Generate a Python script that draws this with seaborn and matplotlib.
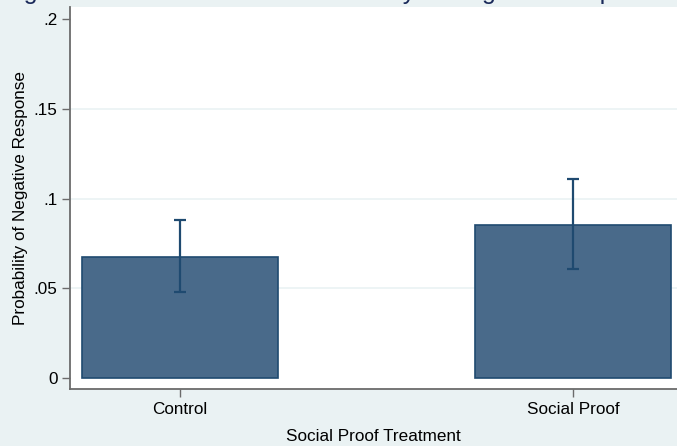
import matplotlib
matplotlib.use("Agg")
import matplotlib.pyplot as plt
import seaborn as sns
import pandas as pd

# Estimated probability of a negative response by treatment arm, with 95% CIs
groups = ["Control", "Social Proof"]
prob_negative = [0.0675, 0.0855]
ci_low = [0.048, 0.0605]
ci_high = [0.088, 0.111]
y_ticks = [0, 0.05, 0.10, 0.15, 0.20]
y_tick_labels = ["0", ".05", ".1", ".15", ".2"]

sns.set_theme(style="white")
plt.rcParams["font.family"] = ["Liberation Sans", "DejaVu Sans"]

bg = "#EAF2F3"
fill = "#496A8A"
navy = "#1F4A70"

fig = plt.figure(figsize=(6.77, 4.46), dpi=100, facecolor=bg)
ax = fig.add_axes([70 / 677, 57 / 446, 1 - 70 / 677, 382 / 446])
ax.set_facecolor("white")

df = pd.DataFrame({"group": groups, "prob": prob_negative})
sns.barplot(data=df, x="group", y="prob", order=groups, color=fill,
            saturation=1, width=0.5, errorbar=None, edgecolor=navy,
            linewidth=1.2, ax=ax, zorder=2)

lower_err = [m - lo for m, lo in zip(prob_negative, ci_low)]
upper_err = [hi - m for m, hi in zip(prob_negative, ci_high)]
ax.errorbar(range(len(groups)), prob_negative, yerr=[lower_err, upper_err],
            fmt="none", ecolor=navy, elinewidth=1.6, capsize=4.5,
            capthick=1.6, zorder=3)

ax.set_xlim(-0.28, 1.265)
ax.set_ylim(-0.0061, 0.2067)
ax.set_yticks(y_ticks)
ax.set_yticklabels(y_tick_labels)

for gy in y_ticks[1:-1]:
    ax.axhline(gy, color=bg, linewidth=1.2, zorder=1)

for side in ("top", "right"):
    ax.spines[side].set_visible(False)
for side in ("left", "bottom"):
    ax.spines[side].set_color("#6b6b6b")
    ax.spines[side].set_linewidth(1.3)

ax.tick_params(axis="both", which="major", direction="out", length=6,
               width=1.0, color="#6b6b6b", labelsize=12.3, pad=3,
               left=True, bottom=True, labelcolor="black")

ax.set_xlabel("Social Proof Treatment", fontsize=12.3, color="black", labelpad=9)
ax.set_ylabel("Probability of Negative Response", fontsize=12.3, color="black",
              labelpad=4)

fig.text(3 / 677, 446.5 / 446, "Figure 2: Social Proof and Probability of Negative Response",
         fontsize=18, color="#1a2a5a", ha="left", va="baseline")

fig.savefig("out.png", dpi=100, facecolor=bg)
